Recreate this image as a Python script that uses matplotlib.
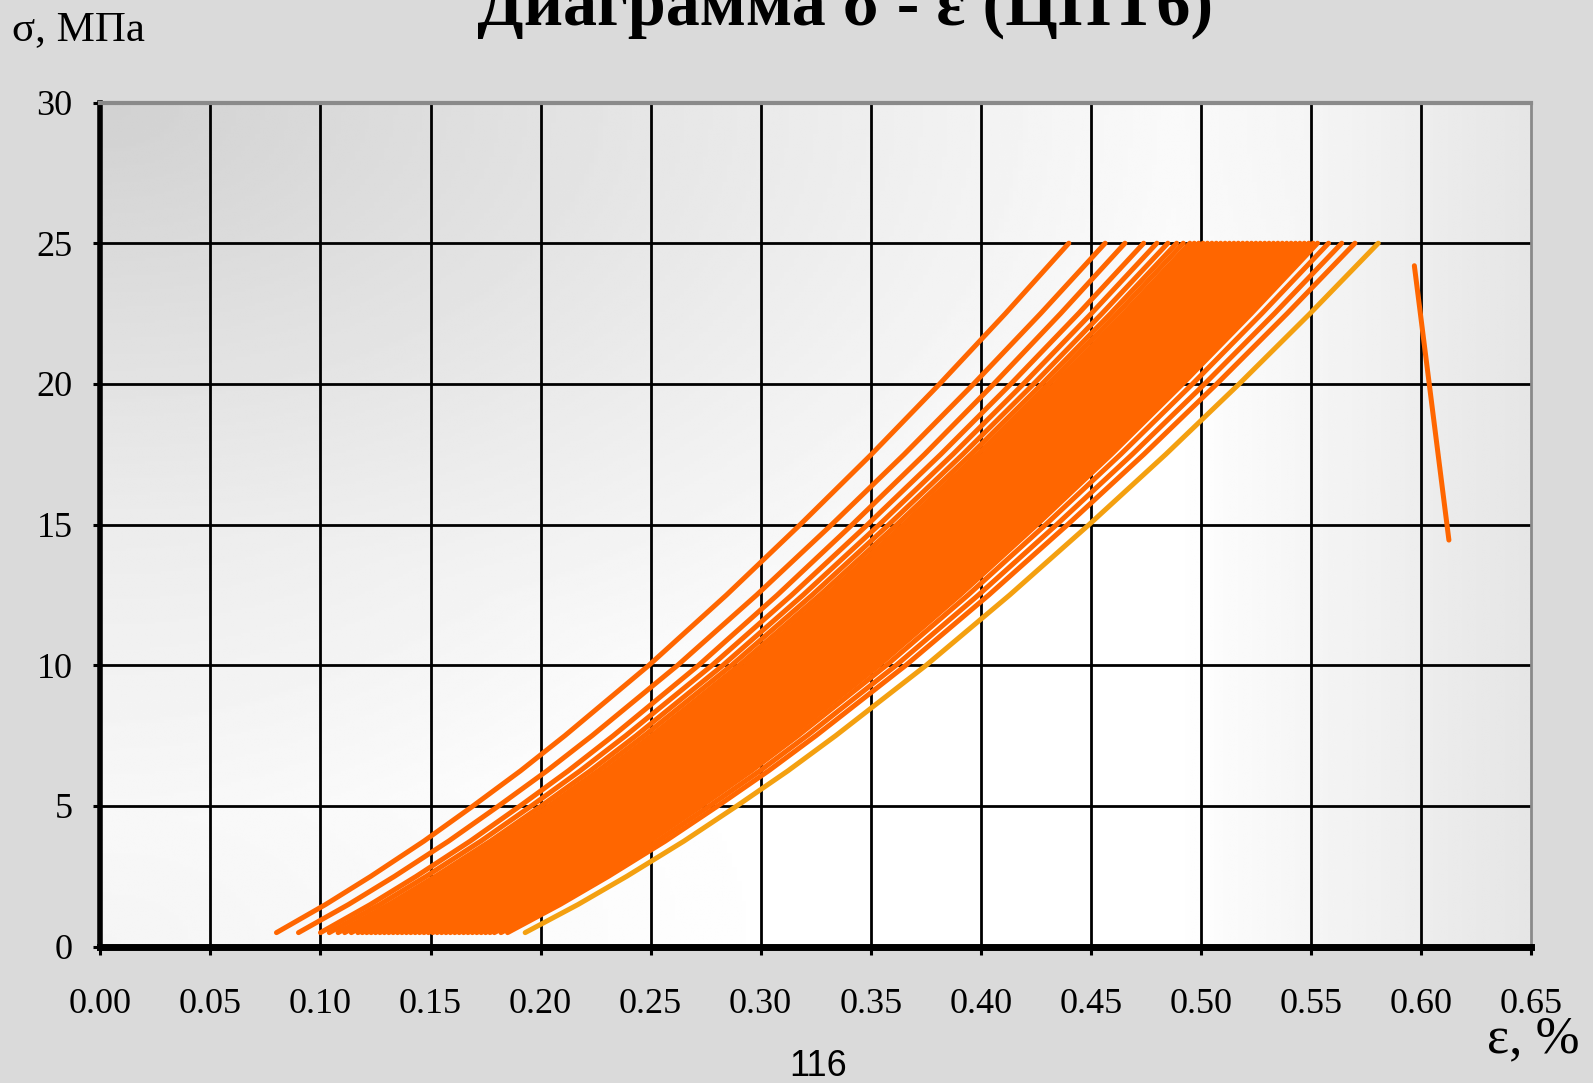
import numpy as np
import matplotlib
matplotlib.use("Agg")
import matplotlib.pyplot as plt

# ---- data ----
x_ticks = [0.00, 0.05, 0.10, 0.15, 0.20, 0.25, 0.30, 0.35, 0.40, 0.45, 0.50, 0.55, 0.60, 0.65]
x_tick_labels = ["0.00", "0.05", "0.10", "0.15", "0.20", "0.25", "0.30", "0.35", "0.40",
                 "0.45", "0.50", "0.55", "0.60", "0.65"]
y_ticks = [0, 5, 10, 15, 20, 25, 30]

# loading-branch shape: stress levels (MPa) and fraction of each cycle's strain span
sigma_levels = [0.5, 1.5, 2.5, 3.75, 5.0, 6.25, 7.5, 10.0, 12.5, 15.0, 17.5, 20.0, 22.5, 25.0]
shape_frac = [0.0, 0.062, 0.119, 0.186, 0.248, 0.308, 0.364, 0.470, 0.568, 0.661,
              0.751, 0.837, 0.920, 1.0]

# strain at the start (σ≈0.5 MPa) and end (σ=25 MPa) of every loading cycle, %
cycle_start = [0.080, 0.090, 0.100, 0.104, 0.108, 0.111, 0.114, 0.117,
               0.119, 0.121, 0.123, 0.125, 0.127, 0.129, 0.131, 0.133, 0.135, 0.137,
               0.139, 0.141, 0.143, 0.145, 0.147, 0.149, 0.151, 0.153, 0.155, 0.157,
               0.159, 0.161, 0.163, 0.165, 0.167, 0.169, 0.171, 0.173, 0.175, 0.177,
               0.179, 0.182, 0.185, 0.193]
cycle_end = [0.440, 0.4565, 0.4655, 0.474, 0.480, 0.485, 0.489, 0.492,
             0.495, 0.497, 0.499, 0.501, 0.503, 0.505, 0.507, 0.509, 0.511, 0.513,
             0.515, 0.517, 0.519, 0.521, 0.523, 0.525, 0.527, 0.529, 0.531, 0.533,
             0.535, 0.537, 0.539, 0.541, 0.543, 0.545, 0.547, 0.549, 0.551, 0.553,
             0.558, 0.564, 0.570, 0.5806]

# final descending branch
fail_eps = [0.597, 0.6127]
fail_sigma = [24.2, 14.45]

# ---- figure ----
W, H = 1593, 1083
fig = plt.figure(figsize=(W / 100, H / 100), dpi=100)
fig.patch.set_facecolor("#dadada")

ax = fig.add_axes([100.4 / W, 1 - 946.7 / H, 1430.6 / W, 844.2 / H])
ax.set_xlim(0, 0.65)
ax.set_ylim(0, 30)

# gradient plot background
gx, gy = np.meshgrid(np.linspace(0, 1, 300), np.linspace(0, 1, 300))
tl = np.clip(1 - np.sqrt(gx ** 2 + (1 - gy) ** 2) / 0.85, 0, 1)
rr = np.clip((gx - 0.75) / 0.25, 0, 1)
bl = np.clip(1 - np.sqrt(gx ** 2 + gy ** 2) / 0.5, 0, 1)
b = 1 - 0.18 * tl - 0.10 * rr - 0.04 * bl
ax.imshow(b, cmap="gray", vmin=0, vmax=1, extent=[0, 1, 0, 1], origin="lower",
          transform=ax.transAxes, aspect="auto", zorder=0, interpolation="bilinear")

# grid
for xv in x_ticks[1:-1]:
    ax.axvline(xv, color="black", lw=2.0, zorder=1)
for yv in y_ticks[1:-1]:
    ax.axhline(yv, color="black", lw=2.0, zorder=1)

# cycles
frac = np.array(shape_frac)
n = len(cycle_start)
for i, (s, e) in enumerate(zip(cycle_start, cycle_end)):
    eps = s + frac * (e - s)
    col = "#f4a010" if i == n - 1 else "#ff6600"
    ax.plot(eps, sigma_levels, color=col, lw=3.6, solid_capstyle="round",
            solid_joinstyle="round", zorder=3)

ax.plot(fail_eps, fail_sigma, color="#ff6600", lw=3.6, solid_capstyle="round", zorder=3)

# spines
for side in ["top", "right"]:
    ax.spines[side].set_color("#8a8a8a")
ax.spines["top"].set_linewidth(3.0)
ax.spines["right"].set_linewidth(2.0)
ax.spines["left"].set_color("black")
ax.spines["left"].set_linewidth(4.0)
ax.spines["bottom"].set_color("black")
ax.spines["bottom"].set_linewidth(5.0)
for sp in ax.spines.values():
    sp.set_zorder(5)

ax.set_xticks(x_ticks)
ax.set_xticklabels(x_tick_labels)
ax.set_yticks(y_ticks)
ax.set_yticklabels([str(v) for v in y_ticks])
ax.tick_params(axis="x", direction="out", length=6, width=2.2, color="black", pad=24,
               labelsize=26, top=False)
ax.tick_params(axis="y", direction="out", length=5, width=2.2, color="black", pad=15,
               labelsize=26, right=False)
for lab in ax.get_xticklabels() + ax.get_yticklabels():
    lab.set_family("Liberation Serif")

# texts
fig.text(845 / W, 1 - 25 / H, "Диаграмма σ - ε (ЦПТ6)", ha="center", va="baseline",
         fontsize=49, fontweight="bold", family="Liberation Serif", color="black")
fig.text(12 / W, 1 - 40 / H, "σ, МПа", ha="left", va="baseline",
         fontsize=31, family="Liberation Serif", color="black")
fig.text(1487 / W, 1 - 1052 / H, "ε, %", ha="left", va="baseline",
         fontsize=38, family="Liberation Serif", color="black")
fig.text(818 / W, 1 - 1076 / H, "116", ha="center", va="baseline",
         fontsize=26, family="Liberation Sans", color="black")

fig.savefig("out.png", dpi=100, facecolor=fig.get_facecolor())
